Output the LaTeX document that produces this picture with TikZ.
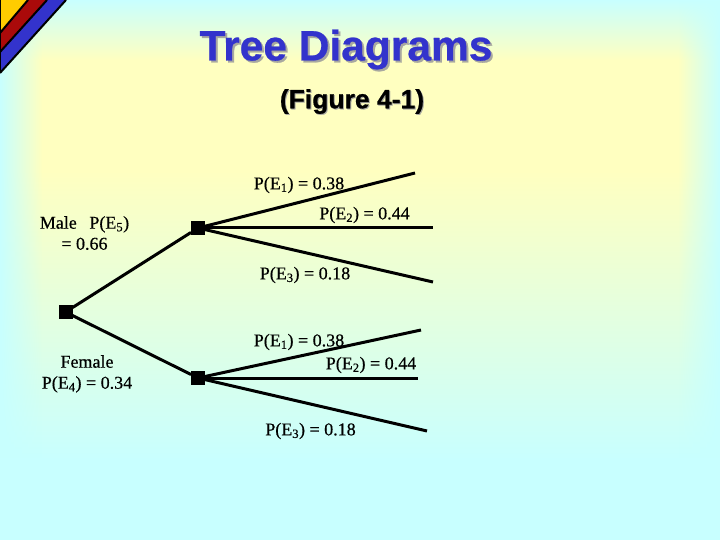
\documentclass[tikz,border=0pt]{standalone}
\usepackage{fontspec}
\setmainfont{Liberation Serif}[FakeBold=0.5]
\newfontfamily\headfont{Liberation Sans}[FakeBold=0.6]
\usetikzlibrary{fadings}
\definecolor{bgcyan}{HTML}{C8FFFF}
\definecolor{bgyellow}{HTML}{FFFFC0}
\definecolor{titleblue}{HTML}{3333CC}
\definecolor{titleshadow}{HTML}{A8A8A0}
\definecolor{cornerred}{HTML}{AA0A0A}
\definecolor{corneryellow}{HTML}{FFCC00}
\tikzset{
  sq/.style={fill=black,draw=none,minimum size=14pt,inner sep=0pt,outer sep=0pt,rectangle},
  branch/.style={draw=black,line width=3pt},
  prob/.style={font=\fontsize{18}{21}\selectfont,text=black,inner sep=0pt,align=center},
  ttl/.style={font=\headfont\fontsize{42.5}{46}\selectfont\bfseries,inner sep=0pt},
  subttl/.style={font=\headfont\fontsize{26.5}{30}\selectfont\bfseries,inner sep=0pt},
}
\begin{document}
\begin{tikzpicture}[x=1pt,y=-1pt]
\useasboundingbox (0,0) rectangle (720,540);
% background
\shade[top color=bgcyan,bottom color=bgyellow] (0,0) rectangle (720,60);
\fill[bgyellow] (0,60) rectangle (720,170);
\shade[top color=bgyellow,bottom color=bgcyan] (0,170) rectangle (720,460);
\fill[bgcyan] (0,460) rectangle (720,540);
\fill[bgcyan,path fading=east] (0,0) rectangle (42,540);
\fill[bgcyan,path fading=west] (678,0) rectangle (720,540);
% corner
\fill[titleblue] (0,0) -- (66,0) -- (0,73) -- cycle;
\fill[cornerred] (0,0) -- (47,0) -- (0,52) -- cycle;
\fill[corneryellow] (0,0) -- (28,0) -- (0,33) -- cycle;
\draw[line width=2pt] (28,0) -- (0,33);
\draw[line width=2pt] (47,0) -- (0,52);
\draw[line width=2pt] (66,0) -- (0,73);
\draw[line width=2pt] (0,0) -- (0,73);
% title
\node[ttl,text=titleshadow] at (348,51.5) {Tree Diagrams};
\node[ttl,text=titleblue] (title) at (346,49.5) {Tree Diagrams};
\node[subttl,text=titleshadow] at (353,102.5) {(Figure 4-1)};
\node[subttl,text=black] (sub) at (352,101.5) {(Figure 4-1)};
% tree
\node[sq] (root) at (65.5,312) {};
\node[sq] (a) at (198,228) {};
\node[sq] (b) at (198,378) {};
\coordinate (a1) at (415,173);
\coordinate (a2) at (433,228);
\coordinate (a3) at (433,282);
\coordinate (b1) at (421,330);
\coordinate (b2) at (418,378);
\coordinate (b3) at (427,431);
\draw[branch] (root) -- (a);
\draw[branch] (root) -- (b);
\draw[branch] (a) -- (a1);
\draw[branch] (a) -- (a2);
\draw[branch] (a) -- (a3);
\draw[branch] (b) -- (b1);
\draw[branch] (b) -- (b2);
\draw[branch] (b) -- (b3);
% labels
\node[prob] (la1) at (299,185) {P(E\textsubscript{1}) = 0.38};
\node[prob] (la2) at (364.5,215) {P(E\textsubscript{2}) = 0.44};
\node[prob] (la3) at (305,275) {P(E\textsubscript{3}) = 0.18};
\node[prob] (lb1) at (299,342) {P(E\textsubscript{1}) = 0.38};
\node[prob] (lb2) at (371,365) {P(E\textsubscript{2}) = 0.44};
\node[prob] (lb3) at (310.5,431) {P(E\textsubscript{3}) = 0.18};
\node[prob,anchor=north] (male) at (84.5,216) {Male\hspace{0.7em}P(E\textsubscript{5})\\= 0.66};
\node[prob,anchor=north] (female) at (87,355) {Female\\P(E\textsubscript{4}) = 0.34};
\end{tikzpicture}
\end{document}
